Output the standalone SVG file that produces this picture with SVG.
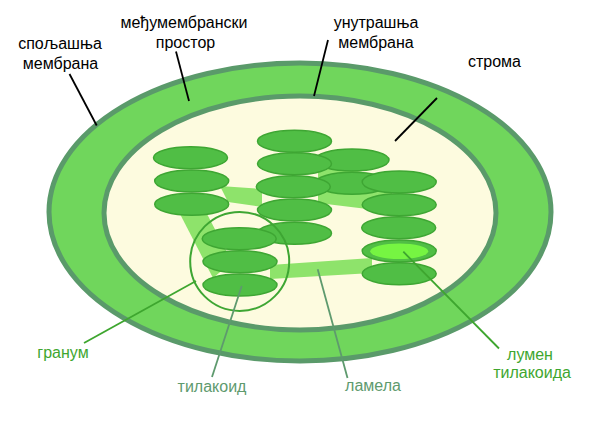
<svg xmlns="http://www.w3.org/2000/svg" width="600" height="425" viewBox="0 0 600 425">
<style>
text{font-family:"Liberation Sans",Arial,sans-serif;font-size:16px;text-anchor:middle}
.blk{fill:#000}
.grn{fill:#3ea62f}
.gry{fill:#5e9a6e}
.lead{stroke:#000;stroke-width:1.8;fill:none}
.leadg{stroke:#3ea62f;stroke-width:1.8;fill:none}
.leadgy{stroke:#5e9a6e;stroke-width:1.8;fill:none}
.thy{fill:#50be45;stroke:#3ea633;stroke-width:1.5}
.lam{fill:#8ee36b}
</style>
<rect width="600" height="425" fill="#fff"/>
<g id="outer-membrane">
<ellipse cx="300" cy="212" rx="251" ry="149" fill="#70d65c" stroke="#5a9a6a" stroke-width="5"/>
</g>
<g id="inner-membrane">
<ellipse cx="300" cy="213" rx="196" ry="117" fill="#fdfbdf" stroke="#5a9a6a" stroke-width="5"/>
</g>
<g id="lamellae">
<polygon class="lam" points="180,214 206,212 232,262 213,278"/>
<polygon class="lam" points="220,186 262,189 262,207 228,202"/>
<polygon class="lam" points="270,265 372,258 372,273 270,279"/>
<polygon class="lam" points="318,163 392,178 392,212 318,203"/>
</g>
<g id="stack3">
<ellipse class="thy" cx="352" cy="160" rx="37" ry="11"/>
<ellipse class="thy" cx="352" cy="183.3" rx="37" ry="11"/>
</g>
<g id="stack2">
<ellipse class="thy" cx="294.5" cy="141.3" rx="37" ry="11"/>
<ellipse class="thy" cx="294.5" cy="163.8" rx="37" ry="11"/>
<ellipse class="thy" cx="293.3" cy="186.7" rx="37" ry="11"/>
<ellipse class="thy" cx="294.5" cy="210" rx="37" ry="11"/>
<ellipse class="thy" cx="294.5" cy="233.3" rx="37" ry="11"/>
</g>
<g id="stack1">
<ellipse class="thy" cx="190.5" cy="157.7" rx="37" ry="11"/>
<ellipse class="thy" cx="191.7" cy="181" rx="37" ry="11"/>
<ellipse class="thy" cx="191.7" cy="204.3" rx="37" ry="11"/>
</g>
<g id="stack4">
<ellipse class="thy" cx="399.2" cy="182" rx="37" ry="11"/>
<ellipse class="thy" cx="399.2" cy="204.7" rx="37" ry="11"/>
<ellipse class="thy" cx="398.7" cy="227.7" rx="37" ry="11"/>
<ellipse class="thy" cx="399.2" cy="251" rx="37" ry="11"/>
<ellipse cx="399.2" cy="251.2" rx="29" ry="7.8" fill="#76f542"/>
<ellipse class="thy" cx="399.2" cy="273.8" rx="37" ry="11"/>
</g>
<g id="granum">
<ellipse class="thy" cx="239.2" cy="238.7" rx="37" ry="11"/>
<ellipse class="thy" cx="240" cy="261.7" rx="37" ry="11"/>
<ellipse class="thy" cx="240" cy="285" rx="37" ry="11"/>
<circle cx="239.7" cy="261.4" r="49.5" fill="none" stroke="#3ea633" stroke-width="2"/>
</g>
<g id="connectors">
<line class="lead" x1="69.5" y1="74" x2="96.7" y2="125.5"/>
<line class="lead" x1="176" y1="51.5" x2="189" y2="101"/>
<line class="lead" x1="328" y1="40" x2="314" y2="96"/>
<line class="lead" x1="437" y1="98" x2="395" y2="141"/>
<line class="leadg" x1="84" y1="343" x2="196" y2="281"/>
<line class="leadgy" x1="212" y1="377" x2="241.7" y2="286"/>
<line class="leadgy" x1="317.7" y1="269.3" x2="347.5" y2="378"/>
<line class="leadg" x1="403.3" y1="251.7" x2="499" y2="348.5"/>
</g>
<g id="labels">
<text class="blk" x="60" y="49">спољашња</text>
<text class="blk" x="60.5" y="69">мембрана</text>
<text class="blk" x="184" y="28">међумембрански</text>
<text class="blk" x="185.5" y="48">простор</text>
<text class="blk" x="376" y="28">унутрашња</text>
<text class="blk" x="376" y="48">мембрана</text>
<text class="blk" x="494.5" y="67">строма</text>
<text class="grn" x="63" y="358">гранум</text>
<text class="gry" x="212" y="392">тилакоид</text>
<text class="gry" x="373" y="391">ламела</text>
<text class="grn" x="530" y="360">лумен</text>
<text class="grn" x="532" y="378">тилакоида</text>
</g>
</svg>
